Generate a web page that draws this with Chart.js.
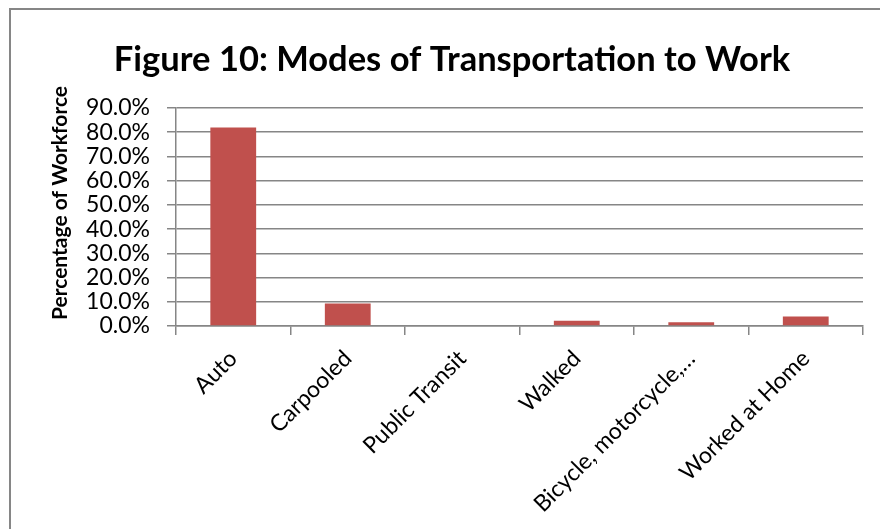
<!DOCTYPE html>
<html>
<head>
<meta charset="utf-8">
<script src="https://cdn.jsdelivr.net/npm/chart.js@4/dist/chart.umd.min.js"></script>
<style>
  html, body { margin: 0; padding: 0; background: #ffffff; }
  #wrap { position: relative; width: 880px; height: 529px; }
</style>
</head>
<body>
<div id="wrap"><canvas id="chart" width="880" height="529"></canvas></div>
<script>
// Modes of transportation to work, share of the workforce (%)
const categories = ["Auto", "Carpooled", "Public Transit", "Walked", "Bicycle, motorcycle,\u2026", "Worked at Home"];
const shares = [82.0, 9.3, 0.0, 2.2, 1.5, 3.9];
const yTicks = [0, 10, 20, 30, 40, 50, 60, 70, 80, 90];

const chartTitle = "Figure 10: Modes of Transportation to Work";
const yAxisTitle = "Percentage of Workforce";

const FONT = "Lato, 'Open Sans', sans-serif";
const GRID = "#868686";

// Frame, chart heading and rotated axis heading
const decorations = {
  id: "decorations",
  beforeDraw(chart) {
    const ctx = chart.ctx;
    ctx.save();
    ctx.strokeStyle = GRID;
    ctx.lineWidth = 2;
    ctx.beginPath();
    ctx.moveTo(10, 529);
    ctx.lineTo(10, 9);
    ctx.lineTo(880, 9);
    ctx.stroke();
    ctx.restore();
  },
  afterDraw(chart) {
    const ctx = chart.ctx;
    ctx.save();
    ctx.fillStyle = "#000";
    ctx.textAlign = "center";
    ctx.textBaseline = "alphabetic";
    ctx.font = "bold 34.5px " + FONT;
    ctx.fillText(chartTitle, 452, 71);

    ctx.translate(67, 203);
    ctx.rotate(-Math.PI / 2);
    ctx.font = "bold 21px " + FONT;
    ctx.fillText(yAxisTitle, 0, 0);
    ctx.restore();
  }
};

new Chart(document.getElementById("chart"), {
  type: "bar",
  data: {
    labels: categories,
    datasets: [{
      data: shares,
      backgroundColor: "#C0504D",
      borderWidth: 0,
      categoryPercentage: 1.0,
      barPercentage: 0.4
    }]
  },
  options: {
    responsive: false,
    animation: false,
    devicePixelRatio: 1,
    layout: { padding: { left: 0, right: 17, top: 108, bottom: 0 } },
    plugins: {
      legend: { display: false },
      title: { display: false },
      tooltip: { enabled: false }
    },
    scales: {
      x: {
        offset: true,
        grid: {
          offset: true,
          drawOnChartArea: false,
          drawTicks: true,
          tickLength: 9,
          color: GRID,
          lineWidth: 1.5
        },
        border: { display: true, color: GRID, width: 1.5 },
        ticks: {
          autoSkip: false,
          minRotation: 45,
          maxRotation: 45,
          padding: 10,
          color: "#000",
          font: { family: FONT, size: 23 }
        },
        afterFit(scale) { scale.height = 203; }
      },
      y: {
        min: 0,
        max: 90,
        afterBuildTicks(scale) { scale.ticks = yTicks.map(v => ({ value: v })); },
        grid: {
          drawTicks: true,
          tickLength: 9,
          color: GRID,
          lineWidth: 1.5
        },
        border: { display: true, color: GRID, width: 1.5 },
        ticks: {
          autoSkip: false,
          padding: 17,
          color: "#000",
          font: { family: FONT, size: 23 },
          callback: v => v.toFixed(1) + "%"
        },
        afterFit(scale) { scale.width = 176; }
      }
    }
  },
  plugins: [decorations]
});
</script>
</body>
</html>
